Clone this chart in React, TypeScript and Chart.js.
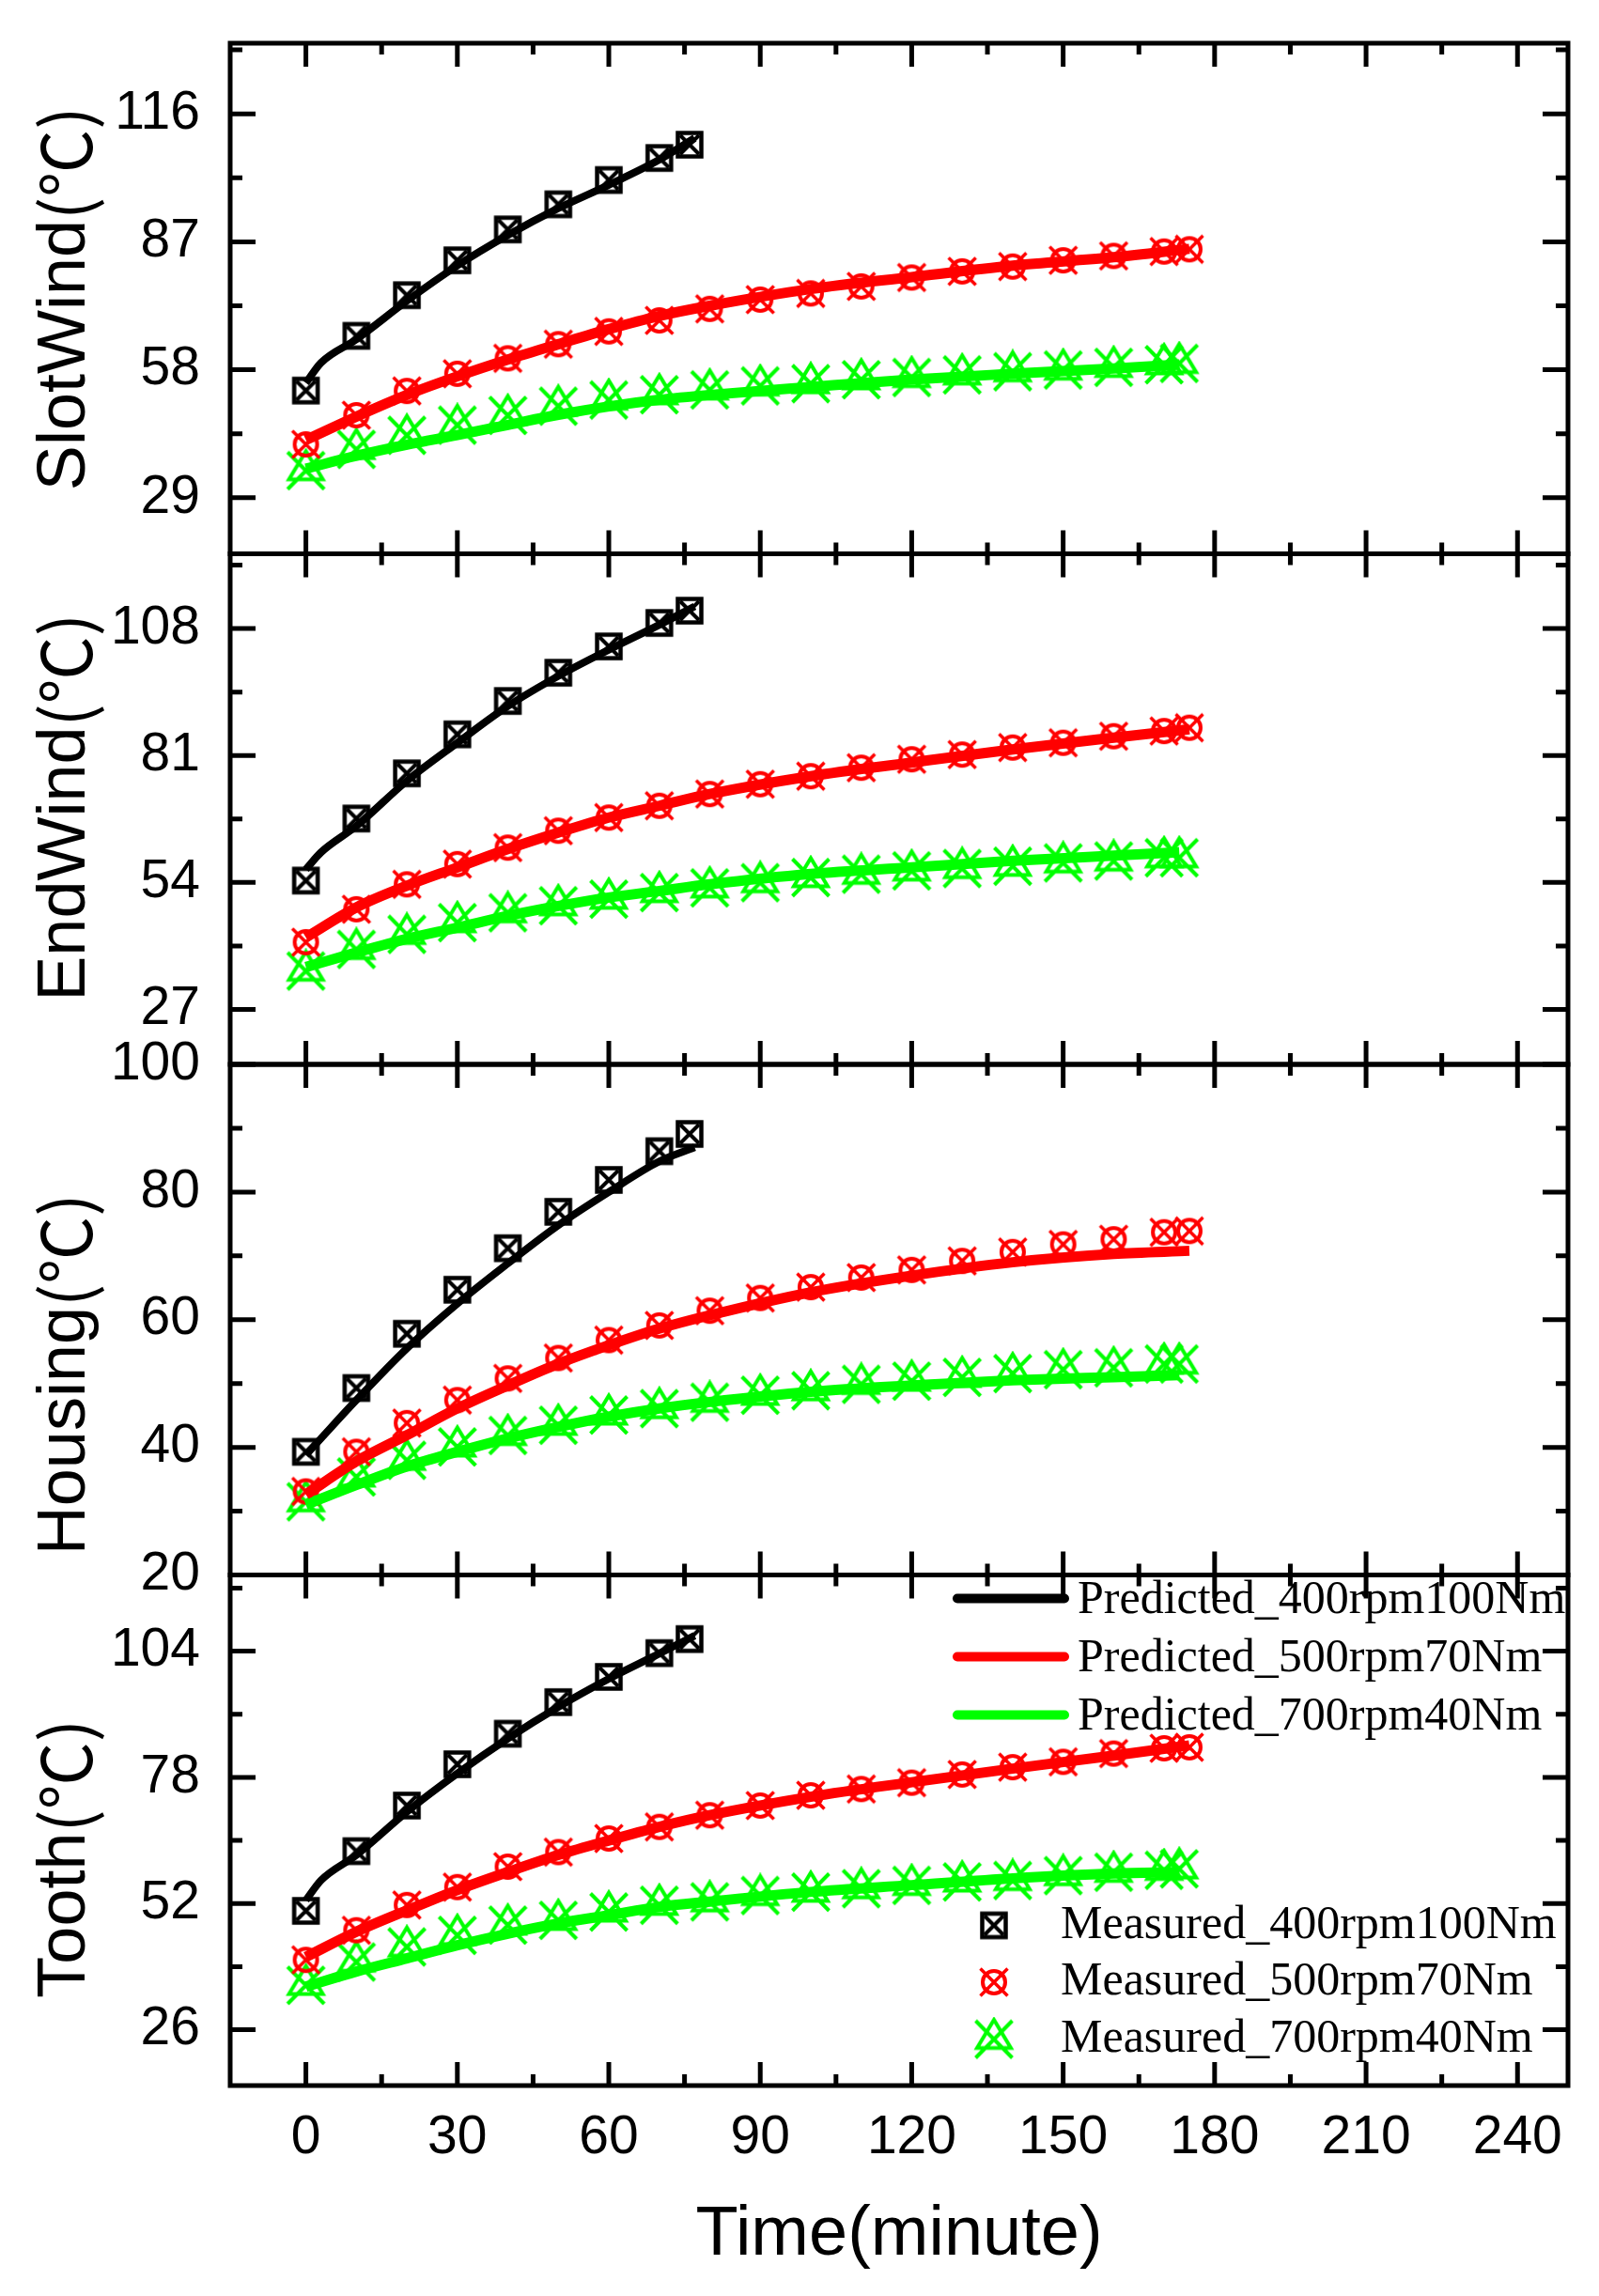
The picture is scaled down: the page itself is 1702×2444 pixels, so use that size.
import { useEffect, useRef } from "react";
import { Chart, registerables } from "chart.js";

Chart.register(...registerables);

const W = 1702;
const H = 2444;
const SANS = "'Liberation Sans', Arial, sans-serif";
const CJK = "'Noto Sans CJK SC', 'Noto Sans CJK JP', sans-serif";
const SERIF = "'Liberation Serif', 'Times New Roman', serif";

const BLACK = "#000000";
const RED = "#ff0000";
const GREEN = "#00ff00";

// time axis ticks
const X_MAJOR = [0, 30, 60, 90, 120, 150, 180, 210, 240];
const X_MINOR = [15, 45, 75, 105, 135, 165, 195, 225];

// sample times (minute)
const T_MEAS_400 = [0, 10, 20, 30, 40, 50, 60, 70, 76];
const T_MEAS_500 = [0, 10, 20, 30, 40, 50, 60, 70, 80, 90, 100, 110, 120, 130, 140, 150, 160, 170, 175];
const T_MEAS_700 = [0, 10, 20, 30, 40, 50, 60, 70, 80, 90, 100, 110, 120, 130, 140, 150, 160, 170, 173];
const T_PRED_400 = [0, 3, 10, 20, 30, 40, 50, 60, 70, 77];
const T_PRED_500 = [0, 10, 20, 30, 40, 50, 60, 70, 80, 100, 120, 140, 160, 175];
const T_PRED_700 = [0, 10, 20, 30, 40, 50, 60, 70, 80, 100, 120, 140, 160, 173];

// SlotWind
const SLOT_M400 = [53.3, 65.7, 74.9, 82.8, 89.8, 95.5, 101.0, 106.0, 109.0];
const SLOT_M500 = [41.1, 47.7, 53.2, 57.1, 60.6, 63.8, 66.7, 69.2, 71.8, 73.9, 75.3, 76.9, 78.9, 80.3, 81.4, 82.8, 83.8, 84.8, 85.3];
const SLOT_M700 = [35.2, 40.0, 43.2, 45.5, 47.7, 49.8, 51.2, 52.4, 53.5, 54.4, 54.9, 55.8, 56.3, 56.9, 57.6, 58.0, 58.6, 59.2, 59.5];
const SLOT_P400 = [55.0, 59.6, 64.9, 73.6, 81.6, 88.5, 94.6, 99.9, 105.6, 110.5];
const SLOT_P500 = [42.1, 47.4, 52.3, 56.5, 60.3, 63.8, 67.2, 70.2, 72.5, 76.3, 79.0, 81.6, 83.5, 85.4];
const SLOT_P700 = [35.6, 38.5, 41.0, 43.2, 45.5, 47.8, 49.7, 51.2, 52.3, 54.1, 55.8, 57.1, 58.3, 59.2];

// EndWind
const END_M400 = [54.4, 67.6, 77.2, 85.5, 92.6, 98.6, 104.2, 109.2, 111.8];
const END_M500 = [41.3, 48.3, 53.6, 57.9, 61.4, 65.0, 67.8, 70.3, 72.8, 74.9, 76.6, 78.4, 80.2, 81.2, 82.7, 83.7, 85.1, 86.2, 86.9];
const END_M700 = [35.2, 39.8, 43.0, 45.5, 47.6, 49.1, 50.5, 51.9, 52.9, 54.0, 55.1, 55.8, 56.5, 57.0, 57.5, 58.2, 58.6, 59.3, 59.3];
const END_P400 = [56.8, 60.4, 66.0, 75.6, 83.7, 91.5, 97.9, 103.5, 108.8, 112.7];
const END_P500 = [42.3, 48.7, 53.3, 57.2, 61.1, 64.6, 67.8, 70.3, 72.8, 76.6, 79.5, 82.3, 84.8, 86.6];
const END_P700 = [36.0, 39.1, 42.0, 44.4, 46.9, 49.0, 50.8, 52.2, 53.6, 55.8, 57.2, 58.6, 59.7, 60.4];

// Housing
const HOUS_M400 = [39.3, 49.3, 57.8, 64.7, 71.2, 76.9, 81.9, 86.4, 89.1];
const HOUS_M500 = [33.1, 39.3, 43.8, 47.4, 50.8, 54.0, 56.8, 59.1, 61.4, 63.4, 65.1, 66.6, 67.8, 69.2, 70.6, 71.8, 72.6, 73.7, 73.9];
const HOUS_M700 = [31.5, 35.4, 38.0, 40.1, 41.9, 43.5, 45.1, 46.1, 47.1, 48.2, 48.9, 49.9, 50.4, 51.0, 51.6, 52.2, 52.5, 53.1, 53.1];
const HOUS_P400 = [38.8, 41.4, 47.4, 55.5, 62.5, 68.8, 74.8, 80.0, 84.8, 87.0];
const HOUS_P500 = [32.6, 37.8, 41.9, 46.1, 49.7, 53.1, 56.0, 58.6, 60.7, 64.3, 66.9, 69.0, 70.3, 70.8];
const HOUS_P700 = [31.0, 34.1, 37.0, 39.3, 41.4, 43.2, 44.8, 46.1, 47.1, 48.7, 49.7, 50.5, 51.0, 51.3];

// Tooth
const TOOTH_M400 = [50.5, 62.8, 72.2, 80.7, 87.0, 93.5, 98.7, 103.6, 106.5];
const TOOTH_M500 = [40.4, 46.5, 51.7, 55.4, 59.6, 62.6, 65.4, 67.8, 70.2, 72.2, 74.3, 75.6, 76.9, 78.6, 80.1, 81.2, 82.9, 84.0, 84.2];
const TOOTH_M700 = [35.2, 40.0, 43.1, 45.5, 47.6, 48.6, 50.3, 51.7, 52.4, 53.7, 54.4, 55.1, 55.8, 56.5, 56.8, 57.8, 58.5, 58.9, 59.2];
const TOOTH_P400 = [52.7, 56.8, 62.0, 70.9, 78.8, 86.0, 92.5, 98.3, 103.5, 107.2];
const TOOTH_P500 = [41.0, 46.2, 50.6, 54.8, 58.5, 62.0, 65.0, 67.8, 70.2, 74.0, 77.0, 79.8, 82.5, 84.6];
const TOOTH_P700 = [34.9, 38.0, 40.7, 43.4, 45.8, 47.9, 49.6, 51.3, 52.4, 54.4, 55.8, 57.2, 58.2, 58.5];

const PRED_LABELS = ["Predicted_400rpm100Nm", "Predicted_500rpm70Nm", "Predicted_700rpm40Nm"];
const MEAS_LABELS = ["Measured_400rpm100Nm", "Measured_500rpm70Nm", "Measured_700rpm40Nm"];
const UNIT = "(℃)";

type Panel = {
  id: string;
  name: string;
  min: number;
  max: number;
  major: number[];
  minor: number[];
  titleShift: number;
  pred: number[][];
  meas: number[][];
};

// listed top to bottom
const PANELS: Panel[] = [
  {
    id: "y1", name: "SlotWind", min: 16.3, max: 132,
    major: [29, 58, 87, 116], minor: [43.5, 72.5, 101.5, 130.5], titleShift: 0,
    pred: [SLOT_P400, SLOT_P500, SLOT_P700], meas: [SLOT_M400, SLOT_M500, SLOT_M700],
  },
  {
    id: "y2", name: "EndWind", min: 15.3, max: 123.9,
    major: [27, 54, 81, 108], minor: [40.5, 67.5, 94.5, 121.5], titleShift: -2,
    pred: [END_P400, END_P500, END_P700], meas: [END_M400, END_M500, END_M700],
  },
  {
    id: "y3", name: "Housing", min: 20, max: 100,
    major: [20, 40, 60, 80, 100], minor: [30, 50, 70, 90], titleShift: 58,
    pred: [HOUS_P400, HOUS_P500, HOUS_P700], meas: [HOUS_M400, HOUS_M500, HOUS_M700],
  },
  {
    id: "y4", name: "Tooth", min: 14.5, max: 119.7,
    major: [26, 52, 78, 104], minor: [39, 65, 91, 117], titleShift: 30,
    pred: [TOOTH_P400, TOOTH_P500, TOOTH_P700], meas: [TOOTH_M400, TOOTH_M500, TOOTH_M700],
  },
];

const pts = (t: number[], v: number[]) => t.map((x, i) => ({ x, y: v[i] }));

type MarkerKind = "box" | "circle" | "tri";

function makeMarker(kind: MarkerKind, color: string): HTMLCanvasElement {
  const dim = kind === "tri" ? 48 : 38;
  const c = document.createElement("canvas");
  c.width = dim;
  c.height = dim;
  const g = c.getContext("2d")!;
  const m = dim / 2;
  g.strokeStyle = color;
  if (kind === "box") {
    g.lineWidth = 4.5;
    g.strokeRect(m - 12.5, m - 12.5, 25, 25);
    g.lineWidth = 4;
    g.beginPath();
    g.moveTo(m - 10, m - 10);
    g.lineTo(m + 10, m + 10);
    g.moveTo(m + 10, m - 10);
    g.lineTo(m - 10, m + 10);
    g.stroke();
  } else if (kind === "circle") {
    g.lineWidth = 4;
    g.beginPath();
    g.arc(m, m, 12, 0, Math.PI * 2);
    g.stroke();
    g.lineWidth = 3.5;
    g.beginPath();
    g.moveTo(m - 14.5, m - 14.5);
    g.lineTo(m + 14.5, m + 14.5);
    g.moveTo(m + 14.5, m - 14.5);
    g.lineTo(m - 14.5, m + 14.5);
    g.stroke();
  } else {
    g.lineWidth = 4;
    g.beginPath();
    g.moveTo(m - 19.5, m - 19.5);
    g.lineTo(m + 19.5, m + 20);
    g.moveTo(m + 19.5, m - 19.5);
    g.lineTo(m - 19.5, m + 20);
    g.moveTo(m, m - 20.5);
    g.lineTo(m - 18, m + 9.5);
    g.lineTo(m + 18, m + 9.5);
    g.closePath();
    g.stroke();
  }
  return c;
}

export default function App() {
  const canvasRef = useRef<HTMLCanvasElement>(null);

  useEffect(() => {
    const canvas = canvasRef.current;
    if (!canvas) return;

    const colors = [BLACK, RED, GREEN];
    const lineWidths = [8, 11, 11];
    const markers = [
      makeMarker("box", BLACK),
      makeMarker("circle", RED),
      makeMarker("tri", GREEN),
    ];
    const predTimes = [T_PRED_400, T_PRED_500, T_PRED_700];
    const measTimes = [T_MEAS_400, T_MEAS_500, T_MEAS_700];

    const datasets: any[] = [];
    PANELS.forEach((p) => {
      for (let k = 0; k < 3; k++) {
        datasets.push({
          label: MEAS_LABELS[k],
          data: pts(measTimes[k], p.meas[k]),
          yAxisID: p.id,
          showLine: false,
          pointStyle: markers[k],
          pointRadius: 14,
          order: 1,
        });
        datasets.push({
          label: PRED_LABELS[k],
          data: pts(predTimes[k], p.pred[k]),
          yAxisID: p.id,
          showLine: true,
          borderColor: colors[k],
          borderWidth: lineWidths[k],
          cubicInterpolationMode: "monotone",
          pointRadius: 0,
          fill: false,
          order: 0,
        });
      }
    });

    const scales: any = {
      x: {
        type: "linear",
        position: "bottom",
        min: -15,
        max: 250,
        afterBuildTicks: (s: any) => {
          s.ticks = X_MAJOR.map((v) => ({ value: v }));
        },
        afterFit: (s: any) => {
          s.height = H - 2220;
          s.paddingLeft = 0;
          s.paddingRight = 0;
        },
        grid: { display: false, drawTicks: false },
        border: { display: false },
        ticks: {
          color: "#000",
          font: { family: SANS, size: 57 },
          padding: 22,
          autoSkip: false,
          maxRotation: 0,
        },
        title: {
          display: true,
          text: "Time(minute)",
          color: "#000",
          font: { family: SANS, size: 74, lineHeight: 1 },
          padding: { top: 0, bottom: 27 },
        },
      },
    };
    // stacked y axes: the last defined goes on top
    [...PANELS].reverse().forEach((p) => {
      scales[p.id] = {
        type: "linear",
        position: "left",
        stack: "panels",
        stackWeight: 1,
        min: p.min,
        max: p.max,
        afterBuildTicks: (s: any) => {
          s.ticks = p.major.map((v) => ({ value: v }));
        },
        afterFit: (s: any) => {
          s.width = 245;
          s.paddingTop = 0;
          s.paddingBottom = 0;
        },
        grid: { display: false, drawTicks: false },
        border: { display: false },
        ticks: {
          color: "#000",
          font: { family: SANS, size: 57 },
          padding: 32,
          autoSkip: false,
        },
      };
    });

    const framePlugin = {
      id: "frames",
      afterDraw(chart: any) {
        const { ctx, chartArea } = chart;
        const xs = chart.scales.x;
        const left = chartArea.left;
        const right = chartArea.right;
        ctx.save();
        ctx.strokeStyle = "#000";
        ctx.fillStyle = "#000";
        PANELS.forEach((p) => {
          const ys = chart.scales[p.id];
          const top = ys.top;
          const bottom = ys.bottom;
          ctx.lineWidth = 5;
          ctx.beginPath();
          const xTick = (v: number, len: number) => {
            const px = xs.getPixelForValue(v);
            ctx.moveTo(px, top);
            ctx.lineTo(px, top + len);
            ctx.moveTo(px, bottom);
            ctx.lineTo(px, bottom - len);
          };
          const yTick = (v: number, len: number) => {
            const py = ys.getPixelForValue(v);
            ctx.moveTo(left, py);
            ctx.lineTo(left + len, py);
            ctx.moveTo(right, py);
            ctx.lineTo(right - len, py);
          };
          X_MAJOR.forEach((v) => xTick(v, 25));
          X_MINOR.forEach((v) => xTick(v, 12));
          p.major.forEach((v) => yTick(v, 27));
          p.minor.forEach((v) => yTick(v, 13));
          ctx.stroke();
          ctx.strokeRect(left, top, right - left, bottom - top);

          // rotated panel title: name in sans, unit in CJK font
          ctx.save();
          ctx.translate(70, (top + bottom) / 2 + p.titleShift);
          ctx.rotate(-Math.PI / 2);
          ctx.textBaseline = "middle";
          ctx.textAlign = "left";
          ctx.font = `72px ${SANS}`;
          const w1 = ctx.measureText(p.name).width;
          ctx.font = `72px ${CJK}`;
          const w2 = ctx.measureText(UNIT).width;
          const x0 = -(w1 + w2) / 2;
          ctx.font = `72px ${SANS}`;
          ctx.fillText(p.name, x0, 0);
          ctx.font = `72px ${CJK}`;
          ctx.fillText(UNIT, x0 + w1, 0);
          ctx.restore();
        });

        // legend inside the bottom panel
        const base = chart.scales.y4.top;
        ctx.font = `50px ${SERIF}`;
        ctx.textAlign = "left";
        ctx.textBaseline = "alphabetic";
        for (let k = 0; k < 3; k++) {
          const y = base + 25 + k * 62;
          ctx.strokeStyle = colors[k];
          ctx.lineWidth = 10;
          ctx.lineCap = "round";
          ctx.beginPath();
          ctx.moveTo(right - 650, y);
          ctx.lineTo(right - 536, y);
          ctx.stroke();
          ctx.fillText(PRED_LABELS[k], right - 522, y + 15);
        }
        for (let k = 0; k < 3; k++) {
          const y = base + 373 + k * 60.5;
          const mk = markers[k];
          ctx.drawImage(mk, right - 611 - mk.width / 2, y - mk.height / 2);
          ctx.fillText(MEAS_LABELS[k], right - 540, y + 13);
        }
        ctx.restore();
      },
    };

    const chart = new Chart(canvas, {
      type: "scatter",
      data: { datasets },
      options: {
        responsive: false,
        animation: false,
        events: [],
        layout: { autoPadding: false, padding: { top: 46, right: 33, left: 0, bottom: 0 } },
        plugins: { legend: { display: false }, tooltip: { enabled: false } },
        scales,
      },
      plugins: [framePlugin],
    } as any);

    return () => {
      chart.destroy();
    };
  }, []);

  return (
    <div style={{ position: "absolute", left: 0, top: 0, width: W, height: H, background: "#fff" }}>
      <canvas ref={canvasRef} width={W} height={H} style={{ display: "block" }} />
    </div>
  );
}
